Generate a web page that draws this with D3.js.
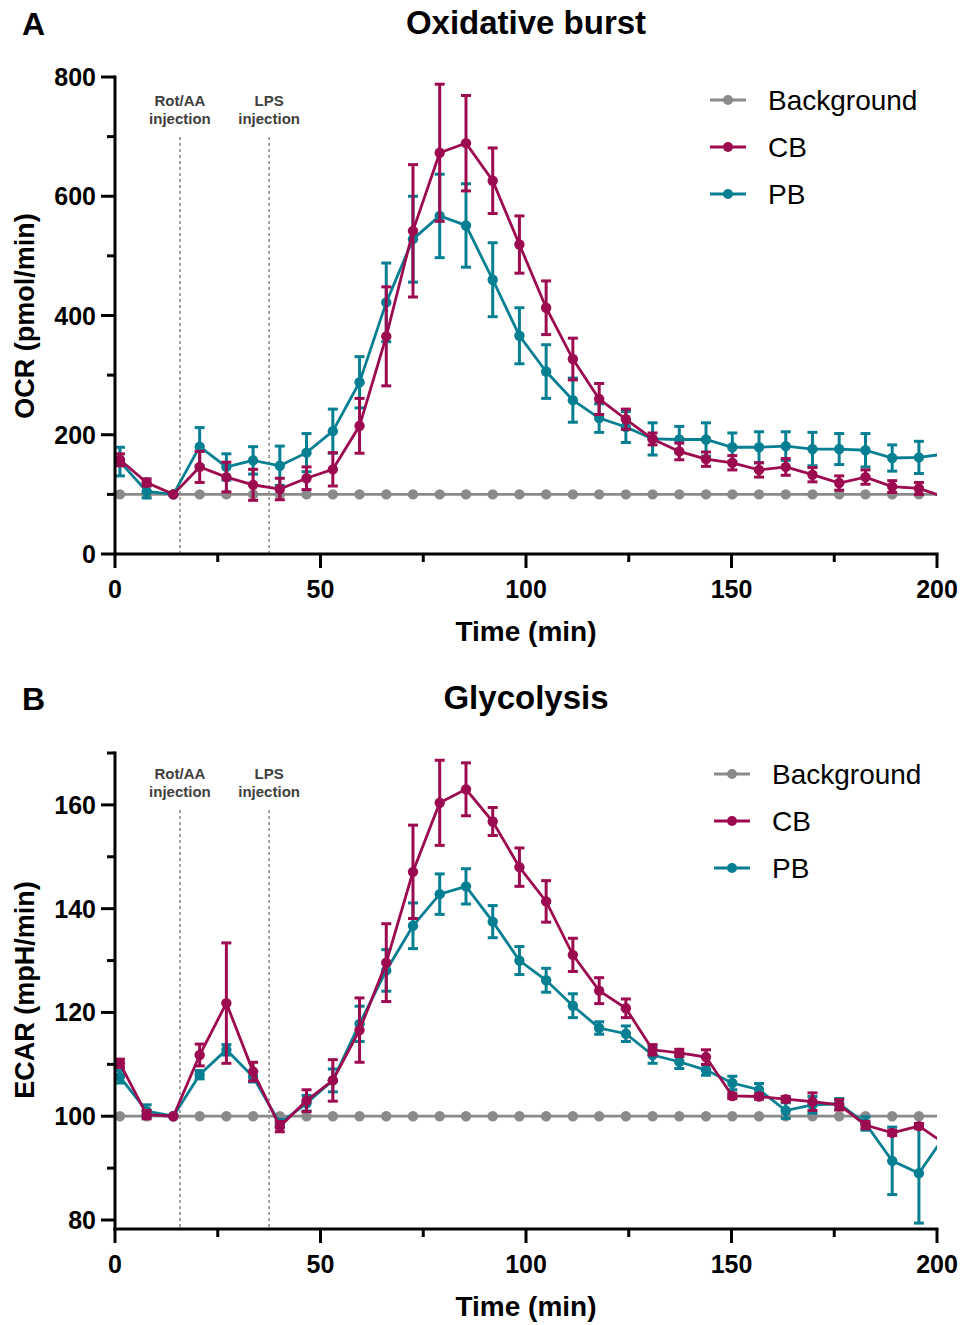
<!DOCTYPE html>
<html>
<head>
<meta charset="utf-8">
<title>Oxidative burst / Glycolysis</title>
<script src="https://d3js.org/d3.v7.min.js"></script>
<style>
  body { margin: 0; background: #fff; }
  svg text { font-family: "Liberation Sans", Arial, sans-serif; }
</style>
</head>
<body>
<script>
// measurement times (min)
var timeMin = [1.2, 7.7, 14.2, 20.6, 27.1, 33.6, 40.1, 46.6, 53.0, 59.5, 66.0, 72.5, 79.0, 85.4, 91.9, 98.4,
               104.9, 111.4, 117.8, 124.3, 130.8, 137.3, 143.8, 150.2, 156.7, 163.2, 169.7, 176.2, 182.6, 189.1, 195.6, 202.1];

// panel A - OCR (pmol/min)
var ocrBackground = [100,100,100,100,100,100,100,100,100,100,100,100,100,100,100,100,
                     100,100,100,100,100,100,100,100,100,100,100,100,100,100,100,100];
var ocrCB    = [158,120,100,146,129,116,109,127,142,215,365,542,673,689,626,519,
                413,327,260,226,193,172,159,153,141,146,133,119,129,113,110,95];
var ocrCBErr = [10,6,0,26,25,26,18,19,28,46,83,111,115,80,55,48,
                45,35,26,17,10,14,12,12,12,14,12,12,12,10,10,0];
var ocrPB    = [155,105,100,180,146,157,148,170,206,288,422,528,567,551,460,366,
                306,258,228,213,193,192,192,179,179,181,176,176,174,161,162,168];
var ocrPBErr = [24,11,0,32,22,23,33,32,37,43,66,72,70,70,62,47,
                45,37,24,26,27,22,28,24,26,24,28,26,28,22,27,0];

// panel B - ECAR (mpH/min)
var ecarBackground = [100,100,100,100,100,100,100,100,100,100,100,100,100,100,100,100,
                      100,100,100,100,100,100,100,100,100,100,100,100,100,100,100,100];
var ecarCB    = [110.2,100.3,100,111.8,121.8,108.6,98.0,103.0,106.9,116.6,129.6,147.1,160.4,163.0,156.8,148.0,
                 141.4,131.1,124.2,120.8,112.8,112.2,111.4,103.9,103.8,103.3,102.8,102.2,98.3,96.8,98.1,94.6];
var ecarCBErr = [0.8,0.8,0,2.1,11.6,1.8,1.0,2.1,4.0,6.2,7.5,9.0,8.2,5.1,2.7,3.7,
                 4.0,3.2,2.5,1.8,1.0,0.7,1.4,0.5,0.5,0.5,1.7,1.0,0.7,0.5,0.5,0];
var ecarPB    = [107.6,101.0,100,108.0,112.8,107.6,98.6,102.5,106.9,117.8,128.1,136.7,142.8,144.3,137.5,130.0,
                 126.2,121.3,117.0,115.9,111.8,110.5,108.9,106.4,105.1,101.1,102.2,102.4,98.6,91.4,89.0,96.5];
var ecarPBErr = [1.2,1.2,0,0.8,1.0,1.0,0.8,1.5,2.2,3.4,4.0,4.4,3.9,3.4,3.1,2.7,
                 2.3,2.3,1.2,1.5,1.6,1.3,1.0,1.3,1.2,1.5,1.6,1.0,1.3,6.5,9.6,0];

var seriesNames = ["Background", "CB", "PB"];
var injectionTimes = [15.8, 37.5];
var injectionLabels = [["Rot/AA", "injection"], ["LPS", "injection"]];
var xTicksMajor = [0, 50, 100, 150, 200];
var xTicksMinor = [25, 75, 125, 175];
var ocrTicks = [0, 100, 200, 300, 400, 500, 600, 700, 800];
var ocrLabels = [0, 200, 400, 600, 800];
var ecarTicks = [80, 90, 100, 110, 120, 130, 140, 150, 160, 170];
var ecarLabels = [80, 100, 120, 140, 160];

var colors = { Background: "#8a8a8a", CB: "#9c0a4f", PB: "#077f92" };

var width = 961, height = 1325;
var svg = d3.select("body").append("svg")
    .attr("width", width)
    .attr("height", height);

var x = d3.scaleLinear().domain([0, 200]).range([115, 937]);

function drawPanel(p) {
    var g = svg.append("g");
    var y = d3.scaleLinear().domain(p.domain).range([p.bottom, p.top]);
    var axisY = p.axisY;

    // panel letter + title
    g.append("text").attr("x", 22).attr("y", p.titleY + 1)
        .style("font-size", "32px").style("font-weight", "bold").text(p.letter);
    g.append("text").attr("x", 526).attr("y", p.titleY).attr("text-anchor", "middle")
        .style("font-size", "33px").style("font-weight", "bold").text(p.title);

    // injection markers
    injectionTimes.forEach(function(t, i) {
        g.append("line")
            .attr("x1", x(t)).attr("x2", x(t))
            .attr("y1", p.dashTop).attr("y2", axisY)
            .style("stroke", "#8a8a8a").style("stroke-width", 1.5)
            .style("stroke-dasharray", "3,3");
        injectionLabels[i].forEach(function(s, j) {
            g.append("text").attr("x", x(t)).attr("y", p.injY + j * 18)
                .attr("text-anchor", "middle")
                .style("font-size", "15px").style("font-weight", "bold")
                .style("fill", "#404040").text(s);
        });
    });

    // clip at t = 200
    var clipId = "clip" + p.letter;
    svg.append("clipPath").attr("id", clipId).append("rect")
        .attr("x", 95).attr("y", 0).attr("width", x(200) - 95).attr("height", height);
    var plot = g.append("g").attr("clip-path", "url(#" + clipId + ")");

    p.series.forEach(function(s) {
        var pts = timeMin.map(function(t, i) {
            return { t: t, v: s.values[i], e: s.err ? s.err[i] : 0 };
        });
        var col = colors[s.name];
        var sg = plot.append("g");
        sg.append("path")
            .datum(pts)
            .attr("d", d3.line().x(function(d) { return x(d.t); }).y(function(d) { return y(d.v); }))
            .style("fill", "none").style("stroke", col).style("stroke-width", 2.8);
        var eb = sg.selectAll("g.err")
            .data(pts.filter(function(d) { return d.e > 0; }))
            .enter().append("g").attr("class", "err")
            .style("stroke", col).style("stroke-width", 3);
        eb.append("line")
            .attr("x1", function(d) { return x(d.t); }).attr("x2", function(d) { return x(d.t); })
            .attr("y1", function(d) { return y(d.v - d.e); }).attr("y2", function(d) { return y(d.v + d.e); });
        eb.append("line")
            .attr("x1", function(d) { return x(d.t) - 5; }).attr("x2", function(d) { return x(d.t) + 5; })
            .attr("y1", function(d) { return y(d.v + d.e); }).attr("y2", function(d) { return y(d.v + d.e); });
        eb.append("line")
            .attr("x1", function(d) { return x(d.t) - 5; }).attr("x2", function(d) { return x(d.t) + 5; })
            .attr("y1", function(d) { return y(d.v - d.e); }).attr("y2", function(d) { return y(d.v - d.e); });
        sg.selectAll("circle")
            .data(pts)
            .enter().append("circle")
            .attr("cx", function(d) { return x(d.t); })
            .attr("cy", function(d) { return y(d.v); })
            .attr("r", 5.2)
            .style("fill", col);
    });

    // axes
    var ax = g.append("g").style("stroke", "#000").style("stroke-width", 3);
    ax.append("line").attr("x1", 115).attr("x2", 115).attr("y1", y(p.domain[1]) - 1.5).attr("y2", axisY + 1.5);
    ax.append("line").attr("x1", 113.5).attr("x2", x(200) + 1.5).attr("y1", axisY).attr("y2", axisY);
    p.yTicks.forEach(function(v) {
        var major = p.yLabels.indexOf(v) >= 0;
        ax.append("line").attr("x1", major ? 101 : 107).attr("x2", 115)
            .attr("y1", y(v)).attr("y2", y(v));
    });
    xTicksMajor.forEach(function(v) {
        ax.append("line").attr("x1", x(v)).attr("x2", x(v)).attr("y1", axisY).attr("y2", axisY + 14);
    });
    xTicksMinor.forEach(function(v) {
        ax.append("line").attr("x1", x(v)).attr("x2", x(v)).attr("y1", axisY).attr("y2", axisY + 8);
    });

    p.yLabels.forEach(function(v) {
        g.append("text").attr("x", 96).attr("y", y(v)).attr("dy", "0.36em")
            .attr("text-anchor", "end")
            .style("font-size", "25px").style("font-weight", "bold").text(v);
    });
    xTicksMajor.forEach(function(v) {
        g.append("text").attr("x", x(v)).attr("y", axisY + 44)
            .attr("text-anchor", "middle")
            .style("font-size", "25px").style("font-weight", "bold").text(v);
    });

    g.append("text").attr("x", 526).attr("y", axisY + 87).attr("text-anchor", "middle")
        .style("font-size", "28px").style("font-weight", "bold").text("Time (min)");
    g.append("text")
        .attr("transform", "translate(34," + p.yTitleC + ") rotate(-90)")
        .attr("text-anchor", "middle")
        .style("font-size", "27px").style("font-weight", "bold").text(p.yTitle);

    // legend
    seriesNames.forEach(function(n, i) {
        var ly = p.legY + i * 47;
        g.append("line").attr("x1", p.legX).attr("x2", p.legX + 36)
            .attr("y1", ly).attr("y2", ly)
            .style("stroke", colors[n]).style("stroke-width", 2.8);
        g.append("circle").attr("cx", p.legX + 18).attr("cy", ly).attr("r", 5).style("fill", colors[n]);
        g.append("text").attr("x", p.legX + 58).attr("y", ly).attr("dy", "0.36em")
            .style("font-size", "28px").text(n);
    });
}

drawPanel({
    letter: "A", title: "Oxidative burst", titleY: 34,
    domain: [0, 800], top: 77, bottom: 554, axisY: 554,
    yTicks: ocrTicks, yLabels: ocrLabels,
    yTitle: "OCR (pmol/min)", yTitleC: 316,
    dashTop: 137, injY: 106,
    legX: 710, legY: 100,
    series: [
        { name: "Background", values: ocrBackground },
        { name: "PB", values: ocrPB, err: ocrPBErr },
        { name: "CB", values: ocrCB, err: ocrCBErr }
    ]
});

drawPanel({
    letter: "B", title: "Glycolysis", titleY: 709,
    domain: [80, 170], top: 753, bottom: 1220, axisY: 1229,
    yTicks: ecarTicks, yLabels: ecarLabels,
    yTitle: "ECAR (mpH/min)", yTitleC: 990,
    dashTop: 810, injY: 779,
    legX: 714, legY: 774,
    series: [
        { name: "Background", values: ecarBackground },
        { name: "PB", values: ecarPB, err: ecarPBErr },
        { name: "CB", values: ecarCB, err: ecarCBErr }
    ]
});
</script>
</body>
</html>
